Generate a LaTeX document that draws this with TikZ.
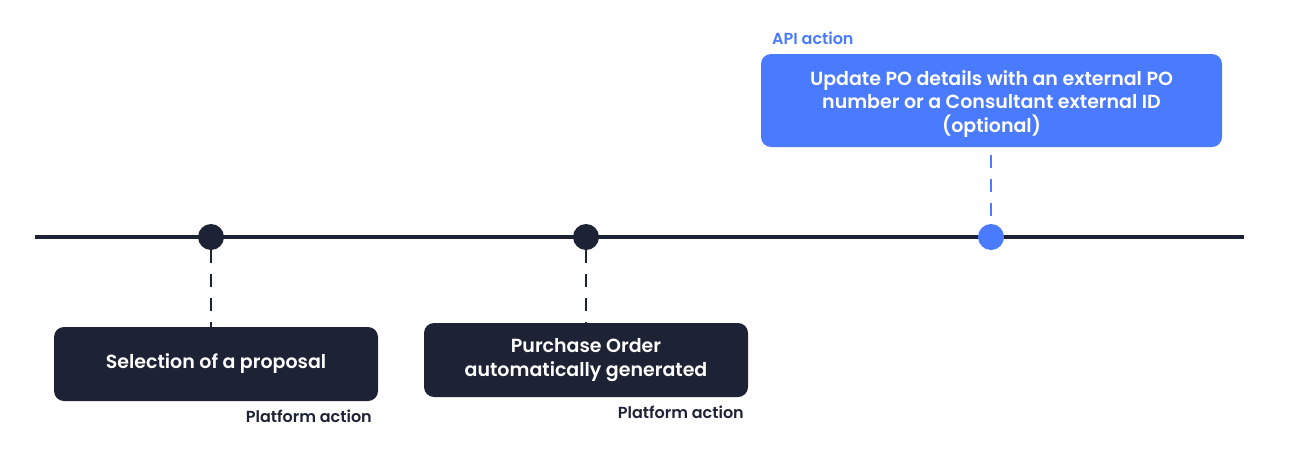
\documentclass[tikz,border=0pt]{standalone}
\usepackage{fontspec}
\setmainfont{Poppins}[BoldFont=Poppins SemiBold]
\definecolor{navy}{HTML}{1E2235}
\definecolor{apiblue}{HTML}{4A7BFF}
\begin{document}
\begin{tikzpicture}[x=1pt,y=-1pt,
  darkbox/.style={fill=navy,rounded corners=10pt,text=white,font=\bfseries\fontsize{19}{24}\selectfont,align=center,inner sep=0pt},
  bluebox/.style={fill=apiblue,rounded corners=10pt,text=white,font=\bfseries\fontsize{19}{23}\selectfont,inner sep=0pt},
  caption/.style={font=\bfseries\fontsize{16}{18}\selectfont,inner sep=0pt},
  dot/.style={circle,inner sep=0pt,minimum size=26pt},
  conn/.style={line width=2pt,dash pattern=on 13pt off 11pt}]
\useasboundingbox (0,0) rectangle (1289,453);
\coordinate (L) at (35,237);
\coordinate (R) at (1244,237);
\draw[navy,line width=4pt] (L) -- (R);
% boxes
\node[darkbox,minimum width=324pt,minimum height=74pt] (b1) at (216,364) {Selection of a proposal};
\node[darkbox,minimum width=324pt,minimum height=74pt] (b2) at (586,360) {Purchase Order\\automatically generated};
\node[bluebox,minimum width=461pt,minimum height=93pt] (b3) at (991.5,100.5) {\raisebox{-4pt}[\height][\depth]{\begin{tabular}{@{}c@{}}Update PO details with an external PO\\number or a Consultant external ID\\(optional)\end{tabular}}};
% dots
\node[dot,fill=navy] (d1) at (211,237) {};
\node[dot,fill=navy] (d2) at (586,237) {};
\node[dot,fill=apiblue] (d3) at (991,237) {};
% connectors
\draw[conn,navy] (d1.south) -- (d1.south |- b1.north);
\draw[conn,navy] (d2.south) -- (b2.north);
\coordinate (t3) at (991,155);
\draw[conn,apiblue] (t3) -- (d3.north);
% captions
\node[caption,text=navy,anchor=east] (c1) at (372,416) {Platform action};
\node[caption,text=navy,anchor=east] (c2) at (744,412) {Platform action};
\node[caption,text=apiblue,anchor=west] (c3) at (772,38) {API action};
\end{tikzpicture}
\end{document}
